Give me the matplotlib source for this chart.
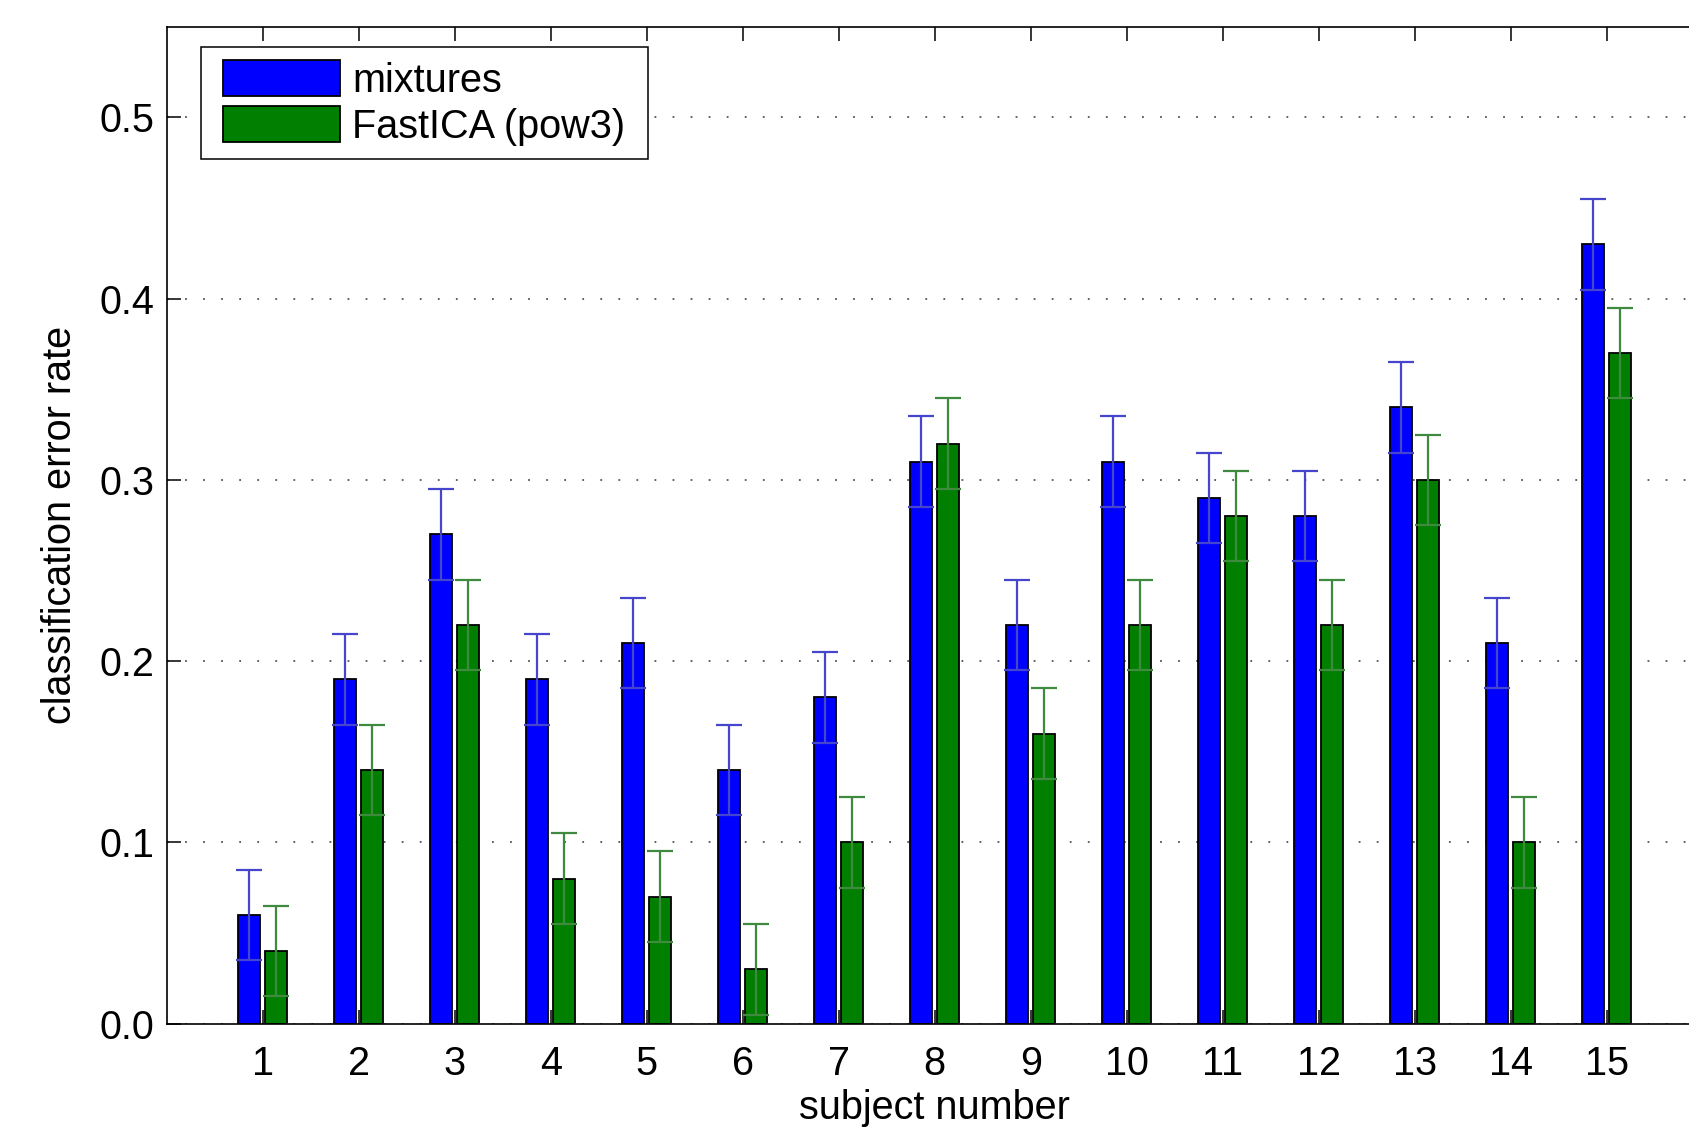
import matplotlib
matplotlib.use("Agg")
import matplotlib.pyplot as plt
import numpy as np
from matplotlib.path import Path

# classification error per subject, mean and error half-width
subjects = [1, 2, 3, 4, 5, 6, 7, 8, 9, 10, 11, 12, 13, 14, 15]
mixtures = [0.06, 0.19, 0.27, 0.19, 0.21, 0.14, 0.18, 0.31, 0.22, 0.31, 0.29, 0.28, 0.34, 0.21, 0.43]
fastica = [0.04, 0.14, 0.22, 0.08, 0.07, 0.03, 0.10, 0.32, 0.16, 0.22, 0.28, 0.22, 0.30, 0.10, 0.37]
mixtures_err = [0.025, 0.025, 0.025, 0.025, 0.025, 0.025, 0.025, 0.025, 0.025, 0.025, 0.025, 0.025, 0.025, 0.025, 0.025]
fastica_err = [0.025, 0.025, 0.025, 0.025, 0.025, 0.025, 0.025, 0.025, 0.025, 0.025, 0.025, 0.025, 0.025, 0.025, 0.025]

series_names = ["mixtures", "FastICA (pow3)"]
y_ticks = [0.0, 0.1, 0.2, 0.3, 0.4, 0.5]

plt.rcParams["font.family"] = ["Liberation Sans", "DejaVu Sans"]
FS = 28.5

fig = plt.figure(figsize=(16.9, 11.31), dpi=100)
ax = fig.add_axes([0.0986, 0.0949, 0.9089, 0.8815])

x = np.array(subjects)
offset = 0.14
width = 0.225

ax.bar(x - offset, mixtures, width, color="#0000ff", edgecolor="black",
       linewidth=1.3, label=series_names[0], zorder=2)
ax.bar(x + offset, fastica, width, color="#007f00", edgecolor="black",
       linewidth=1.3, label=series_names[1], zorder=2)

ax.errorbar(x - offset, mixtures, yerr=mixtures_err, fmt="none",
            ecolor="#4646cc", elinewidth=1.6, capsize=9.4, capthick=1.6, zorder=3)
ax.errorbar(x + offset, fastica, yerr=fastica_err, fmt="none",
            ecolor="#3f8a3f", elinewidth=1.6, capsize=9.4, capthick=1.6, zorder=3)

ax.set_xlim(0, 16)
ax.set_ylim(0, 0.55)
ax.set_xticks(subjects)
ax.set_yticks(y_ticks)
ax.set_yticklabels([f"{v:.1f}" for v in y_ticks])

ax.set_axisbelow(True)
ax.yaxis.grid(True, color="#555555", linewidth=1.3, linestyle=(0, (1, 9)))

ax.tick_params(direction="in", top=True, right=True, length=10, width=1.1,
               labelsize=FS)
ax.tick_params(axis="x", pad=15)
ax.tick_params(axis="y", pad=8.6)
for sp in ax.spines.values():
    sp.set_linewidth(1.2)

ax.set_xlabel("subject number", fontsize=FS, labelpad=4.5)
ax.set_ylabel("classification error rate", fontsize=FS, labelpad=15)


def wide_box(x0, y0, w, h, mutation_size):
    # square frame with some extra room on the left and right
    dx = 0.24 * mutation_size
    verts = [(x0 - dx, y0), (x0 + w + dx, y0), (x0 + w + dx, y0 + h),
             (x0 - dx, y0 + h), (x0 - dx, y0)]
    return Path(verts, closed=True)


leg = ax.legend(loc="upper left", bbox_to_anchor=(0.0285, 0.9796),
                borderaxespad=0, fontsize=FS, frameon=True, fancybox=False,
                borderpad=0.33, handlelength=2.95, handleheight=1.02,
                handletextpad=0.3, labelspacing=0.17)
frame = leg.get_frame()
frame.set_edgecolor("black")
frame.set_linewidth(1.1)
frame.set_alpha(1)
frame.set_boxstyle(wide_box)

fig.savefig("out.png", dpi=100)
